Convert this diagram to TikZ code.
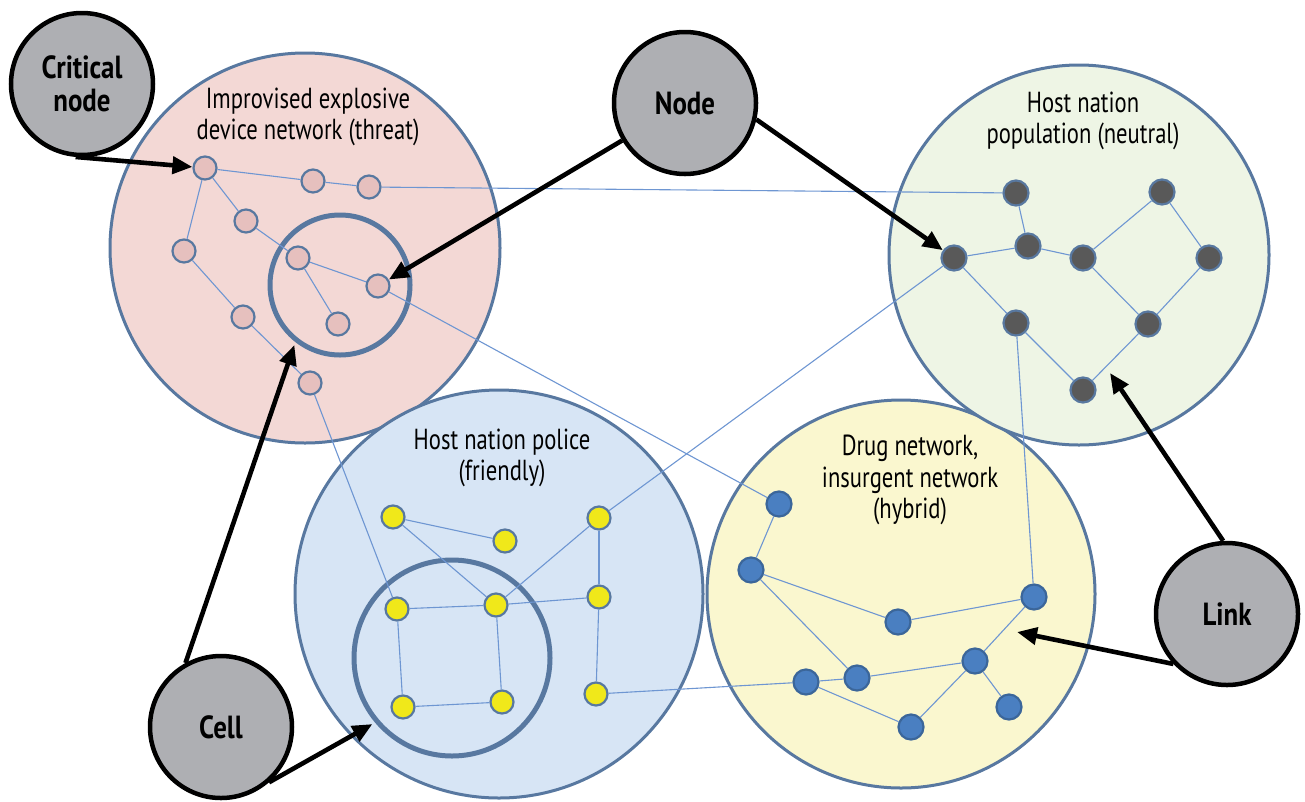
\documentclass[tikz,border=0pt]{standalone}
\usepackage{fontspec}
\setmainfont{PT Sans}[FakeStretch=0.78]
\newfontfamily\tagfont{PT Sans}[FakeStretch=0.84]
\usetikzlibrary{arrows.meta}

\definecolor{rim}{RGB}{88,120,160}
\definecolor{linkc}{RGB}{110,150,210}
\definecolor{iedfill}{RGB}{243,216,213}
\definecolor{iednode}{RGB}{230,192,190}
\definecolor{popfill}{RGB}{238,245,229}
\definecolor{popnode}{RGB}{89,89,89}
\definecolor{polfill}{RGB}{215,229,245}
\definecolor{polnode}{RGB}{240,232,26}
\definecolor{drugfill}{RGB}{250,247,207}
\definecolor{drugnode}{RGB}{74,127,193}
\definecolor{tagc}{RGB}{174,175,179}

\begin{document}
\begin{tikzpicture}[x=1pt, y=-1pt,
	net/.style={circle, draw=rim, line width=3pt, inner sep=0pt},
	cellring/.style={circle, draw=rim, line width=5pt, inner sep=0pt},
	dot/.style={circle, draw=rim, line width=2.2pt, minimum size=23pt, inner sep=0pt},
	lnk/.style={linkc, line width=1.1pt},
	tag/.style={circle, draw=black, line width=4.5pt, fill=tagc, minimum size=142pt, inner sep=0pt, align=center, font=\tagfont\bfseries\fontsize{32}{33}\selectfont},
	title/.style={align=center, font=\fontsize{29}{31.5}\selectfont},
	pointer/.style={line width=4.6pt, -{Triangle[length=20pt,width=17pt]}}]
	\useasboundingbox (0,0) rectangle (1305,801);

	% the four networks
	\node[net, fill=iedfill, minimum size=390pt] (ied) at (305,248) {};
	\node[net, fill=drugfill, minimum size=388pt] (drug) at (901,594) {};
	\node[net, fill=popfill, minimum size=380pt] (pop) at (1079,255) {};
	\node[net, fill=polfill, minimum size=408pt] (pol) at (499,594) {};

	\node[title] (iedtitle) at (308,117) {Improvised explosive\\device network (threat)};
	\node[title] (poptitle) at (1083,121) {Host nation\\population (neutral)};
	\node[title] (poltitle) at (502,458) {Host nation police\\(friendly)};
	\node[title] (drugtitle) at (910,480) {Drug network,\\insurgent network\\(hybrid)};

	% cells
	\node[cellring, minimum size=140pt] (iedcell) at (340,285) {};
	\node[cellring, minimum size=196pt] (polcell) at (452,658) {};

	% nodes
	\foreach \n/\x/\y in {r1/205/168, r2/313/181, r3/369/187, r4/246/221, r5/184/251,
		r6/298/258, r7/378/286, r8/338/324, r9/243/317, r10/310/383}
		\node[dot, fill=iednode] (\n) at (\x,\y) {};
	\foreach \n/\x/\y in {g1/1016/193, g2/1162/192, g3/954/258, g4/1028/246, g5/1083/258,
		g6/1209/258, g7/1016/323, g8/1148/324, g9/1083/390}
		\node[dot, fill=popnode, minimum size=25pt] (\n) at (\x,\y) {};
	\foreach \n/\x/\y in {p1/393/517, p2/505/541, p3/599/518, p4/397/609, p5/496/605,
		p6/599/597, p7/403/707, p8/502/702, p9/596/694}
		\node[dot, fill=polnode] (\n) at (\x,\y) {};
	\foreach \n/\x/\y in {y1/779/504, y2/751/570, y3/898/622, y4/1034/597, y5/806/682,
		y6/857/678, y7/975/661, y8/911/727, y9/1009/707}
		\node[dot, fill=drugnode, draw=drugnode!80!black, minimum size=25pt] (\n) at (\x,\y) {};

	% links
	\foreach \a/\b in {r1/r2, r2/r3, r1/r4, r4/r6, r1/r5, r5/r9, r9/r10, r6/r7, r6/r8,
		g1/g4, g3/g4, g4/g5, g5/g2, g2/g6, g6/g8, g5/g8, g8/g9, g3/g7, g7/g9,
		p1/p2, p1/p5, p5/p3, p3/p6, p6/p9, p4/p5, p5/p6, p4/p7, p7/p8, p8/p5,
		y1/y2, y2/y3, y3/y4, y2/y6, y5/y6, y6/y7, y7/y4, y5/y8, y8/y7, y7/y9,
		r3/g1, r7/y1, g3/p3, g7/y4, r10/p4, p9/y5}
		\draw[lnk] (\a) -- (\b);

	% labels
	\node[tag] (crit) at (82,84) {Critical\\node};
	\node[tag] (nodelbl) at (685,103) {Node};
	\node[tag] (linklbl) at (1227,614) {Link};
	\node[tag] (celllbl) at (221,727) {Cell};

	\coordinate (linkA) at (1017,632);
	\coordinate (linkB) at (1110,373);

	\draw[pointer] (crit.265) -- (r1);
	\draw[pointer] (nodelbl) -- (r7);
	\draw[pointer] (nodelbl.-13) -- (g3);
	\draw[pointer] (linklbl.223) -- (linkA);
	\draw[pointer] (linklbl.93) -- (linkB);
	\draw[pointer, shorten >=3pt] (celllbl.119) -- (iedcell.232);
	\draw[pointer, shorten >=3pt] (celllbl.-49) -- (polcell.220);
\end{tikzpicture}
\end{document}
